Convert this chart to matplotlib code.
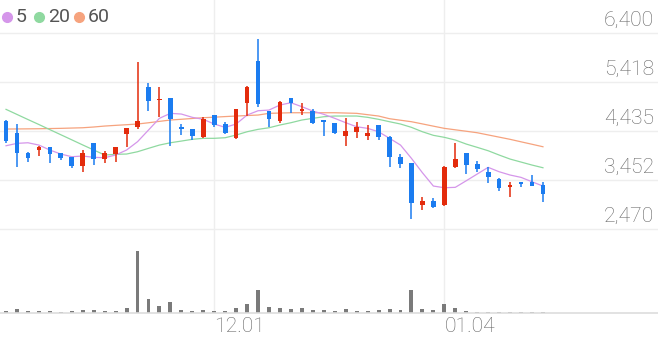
"""Candlestick chart with 5/20/60 moving averages and volume bars."""
import matplotlib
matplotlib.use('Agg')
import matplotlib.pyplot as plt
import matplotlib.transforms as mtrans
import numpy as np

plt.rcParams['font.family'] = ['Roboto', 'DejaVu Sans']

# --- data ---
opens = [4641, 4400, 3999, 4053, 4107, 3999, 3907, 3732, 4187, 3867,
         3967, 4374, 4508, 5323, 5050, 5090, 4508, 4474, 4320, 4755,
         4569, 4288, 5002, 5838, 4841, 4641, 5090, 4835, 4835, 4655,
         4601, 4334, 4420, 4334, 4555, 4320, 3919, 3786, 2956, 3030,
         2956, 3706, 3999, 3772, 3618, 3465, 3305, 3417, 3417, 3351]
highs = [4660, 4569, 4019, 4133, 4119, 4000, 3919, 4053, 4190, 4039,
         4119, 4488, 5812, 5391, 5311, 5095, 4575, 4478, 4709, 4760,
         4621, 4880, 5343, 6274, 4845, 5042, 5095, 4990, 4876, 4660,
         4605, 4701, 4621, 4555, 4560, 4325, 3967, 3790, 3116, 3084,
         3732, 4187, 4003, 3838, 3718, 3485, 3417, 3420, 3553, 3417]
lows = [4190, 3718, 3818, 3939, 3786, 3852, 3698, 3618, 3752, 3798,
        3818, 4119, 4468, 4841, 4709, 4139, 4348, 4254, 4288, 4520,
        4374, 4268, 4735, 4910, 4520, 4589, 4789, 4755, 4580, 4334,
        4380, 4133, 4300, 4254, 4254, 3706, 3686, 2663, 2849, 2900,
        2936, 3700, 3572, 3618, 3397, 3231, 3116, 3305, 3330, 3018]
closes = [4234, 3987, 3899, 4107, 3973, 3886, 3732, 3999, 3867, 3987,
          4107, 4488, 4641, 5036, 5076, 4675, 4468, 4340, 4669, 4555,
          4400, 4875, 5311, 4976, 4669, 5022, 4990, 4882, 4588, 4621,
          4388, 4434, 4508, 4400, 4308, 3906, 3772, 2996, 3036, 2904,
          3706, 3872, 3752, 3666, 3505, 3285, 3357, 3371, 3337, 3172]

ma5 = [4139, 4187, 4199, 4153, 4053, 3973, 3919, 3933, 3907, 3899,
       3953, 4053, 4220, 4454, 4689, 4789, 4775, 4709, 4669, 4575,
       4508, 4575, 4755, 4841, 4855, 4956, 5002, 4922, 4835, 4769,
       4689, 4601, 4520, 4488, 4420, 4288, 4153, 3886, 3598, 3331,
       3297, 3305, 3437, 3572, 3706, 3618, 3552, 3505, 3417, 3331]
ma20 = [4869, 4767, 4665, 4565, 4462, 4360, 4258, 4155, 4055, 3953,
        3967, 3973, 4019, 4087, 4153, 4199, 4233, 4268, 4288, 4288,
        4300, 4354, 4420, 4468, 4500, 4555, 4601, 4655, 4689, 4721,
        4735, 4735, 4735, 4709, 4669, 4621, 4575, 4508, 4420, 4348,
        4308, 4254, 4173, 4107, 4039, 3953, 3872, 3812, 3752, 3698]
ma60 = [4474, 4476, 4478, 4480, 4484, 4488, 4494, 4500, 4515, 4534,
        4548, 4561, 4575, 4600, 4628, 4655, 4670, 4686, 4701, 4712,
        4724, 4735, 4745, 4755, 4789, 4795, 4801, 4801, 4801, 4801,
        4801, 4795, 4789, 4762, 4735, 4681, 4651, 4621, 4577, 4532,
        4488, 4459, 4430, 4400, 4356, 4312, 4268, 4218, 4169, 4119]

volumes = [20, 40, 20, 17, 17, 10, 17, 27, 33, 23,
           20, 50, 617, 137, 70, 107, 30, 23, 30, 17,
           17, 47, 87, 233, 60, 50, 37, 47, 33, 27,
           20, 40, 20, 20, 27, 40, 27, 233, 43, 30,
           87, 53, 20, 10, 10, 10, 10, 10, 10, 13]

price_levels = [2470, 3452, 4435, 5418, 6400]
date_idx = [19, 40]
date_labels = ['12.01', '01.04']
ma_names = ['5', '20', '60']

UP, DOWN = '#e32b0c', '#1b7cf0'
MA_COLORS = ['#d596ea', '#8fd9a0', '#f6a37e']
GRID = '#eeeeee'
TXT = '#666666'

W, H = 658, 342
fig = plt.figure(figsize=(W / 100, H / 100), dpi=100)

x = np.arange(len(closes))
o, hi, lo, c = map(np.array, (opens, highs, lows, closes))
up = c >= o
colors = np.where(up, UP, DOWN)

# price axes spans the full chart height down to the volume baseline
ax = fig.add_axes([0, 29 / H, 1, 313 / H])
ax.set_xlim(-0.55, 59.5)
ax.set_ylim(785, 7062)
for s in ax.spines.values():
    s.set_visible(False)
ax.set_yticks(price_levels)
ax.yaxis.set_ticklabels([])
ax.tick_params(axis='y', length=0)
ax.set_xticks(date_idx)
ax.set_xticklabels(date_labels, ha='left', fontsize=15.2, color=TXT,
                   fontweight='light')
ax.tick_params(axis='x', length=0, pad=3)
ax.grid(True, color=GRID, lw=1)
ax.set_axisbelow(True)

# price labels sit above their gridlines, at the right
lbl_tr = mtrans.offset_copy(ax.get_yaxis_transform(), fig=fig, y=7.3, units='dots')
for v in price_levels:
    ax.text(0.994, v, f'{v:,}', transform=lbl_tr, ha='right', va='baseline',
            fontsize=15.2, color=TXT, fontweight='light', clip_on=False)

# moving averages under the candles
for vals, col in zip([ma60, ma20, ma5], MA_COLORS[::-1]):
    ax.plot(x, vals, color=col, lw=0.9, zorder=2)

# candles
ax.vlines(x, lo, hi, colors=colors, lw=1.1, zorder=3)
body = np.maximum(np.abs(c - o), 25)
ax.bar(x, body, bottom=np.minimum(o, c), width=0.43, color=colors, zorder=4)

# volume
axv = fig.add_axes([0, 29 / H, 1, 62 / H], sharex=ax)
axv.set_facecolor('none')
axv.set_ylim(0, max(volumes))
axv.bar(x, volumes, width=0.36, color='#7a7a7a')
axv.axhline(0, color='#dddddd', lw=1.2, clip_on=False)
axv.axis('off')

# legend at top left
for k, (name, col) in enumerate(zip(ma_names, MA_COLORS)):
    cx = [7, 39, 79][k] / W
    fig.lines.append(plt.Line2D([cx], [1 - 17 / H], marker='o', ms=7, color=col,
                                lw=0, transform=fig.transFigure))
    fig.text(cx + 9 / W, 1 - 17 / H, name, ha='left', va='center',
             fontsize=14, color='#555555')

fig.savefig('out.png', dpi=100, facecolor='white')
